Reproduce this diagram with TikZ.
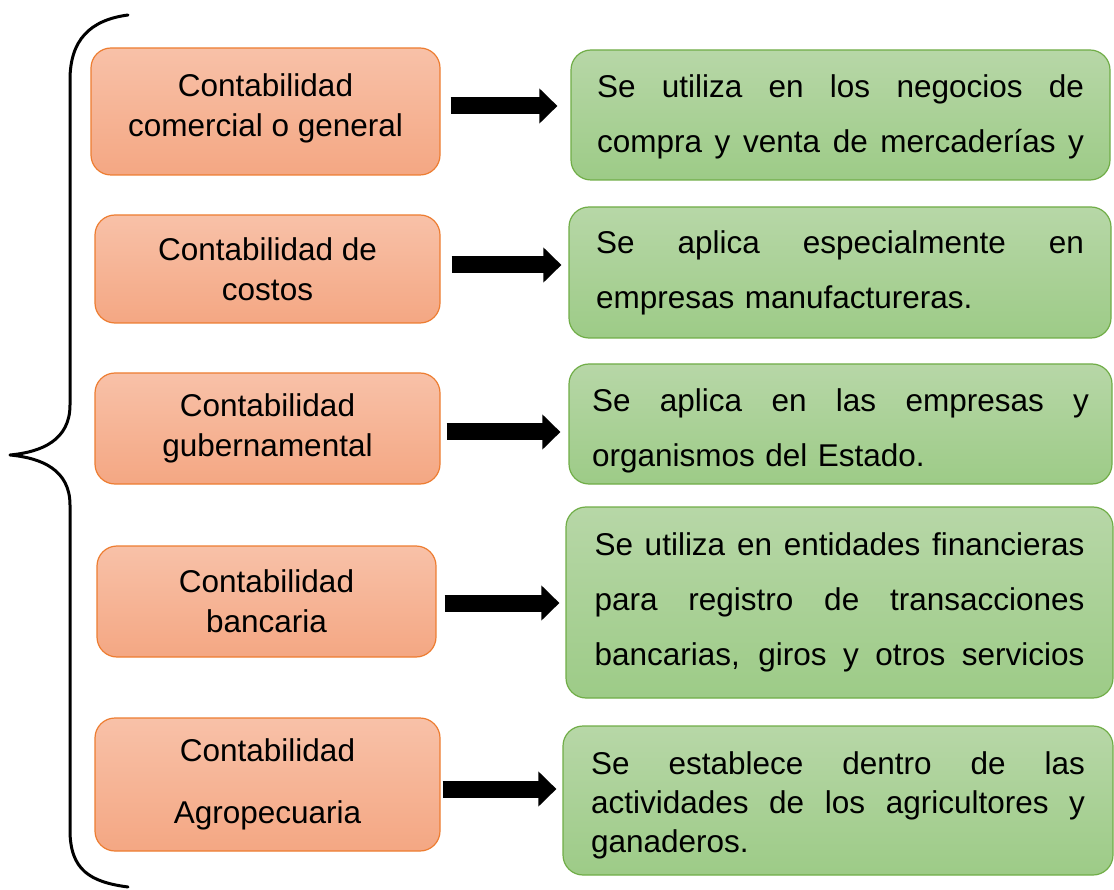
\documentclass[tikz,border=0pt]{standalone}
\usepackage{fontspec}
\setmainfont{Liberation Sans}
\usetikzlibrary{arrows.meta,calc}
\definecolor{otop}{RGB}{248,193,168}
\definecolor{obot}{RGB}{244,167,131}
\definecolor{oline}{RGB}{237,125,49}
\definecolor{gtop}{RGB}{183,215,167}
\definecolor{gbot}{RGB}{157,203,135}
\definecolor{gline}{RGB}{112,173,71}
\newcommand{\jl}[2]{\leavevmode\hbox to #1{\spaceskip=\fontdimen2\font plus 1fil\relax #2}}
\begin{document}
\begin{tikzpicture}[x=1pt,y=-1pt,
  obox/.style={draw=oline, line width=1.2pt, rounded corners=20pt, top color=otop, bottom color=obot,
    align=center, font=\fontsize{31.5}{40}\selectfont, inner sep=0pt},
  gbox/.style={draw=gline, line width=1.2pt, rounded corners=20pt, top color=gtop, bottom color=gbot,
    align=left, font=\fontsize{31.5}{55}\selectfont, inner sep=0pt},
  barrow/.style={line width=17pt, draw=black, -{Triangle[width=34pt,length=18pt]}},
  bracepath/.style={line width=3pt, line cap=round, line join=round}]
\useasboundingbox (0,0) rectangle (1114,890);

% brace
\draw[bracepath] (128,15) .. controls (90,20) and (70,40) .. (70,80) -- (70,405)
  .. controls (70,440) and (42,452) .. (10,455)
  .. controls (42,458) and (70,470) .. (70,505) -- (70,830)
  .. controls (70,870) and (90,882) .. (128,887);

% left boxes
\node[obox, minimum width=349pt, minimum height=127pt, text depth=13pt] (o1) at (265.5,111.5) {Contabilidad\\comercial o general};
\node[obox, minimum width=345pt, minimum height=108pt] (o2) at (267.5,269) {Contabilidad de\\costos};
\node[obox, minimum width=345pt, minimum height=111pt] (o3) at (267.5,428.5) {Contabilidad\\gubernamental};
\node[obox, minimum width=339pt, minimum height=111pt] (o4) at (266.5,601.5) {Contabilidad\\bancaria};
\node[obox, minimum width=345pt, minimum height=133pt, font=\fontsize{31.5}{62}\selectfont] (o5) at (267.5,784.5) {Contabilidad\\Agropecuaria};

% right boxes
\node[gbox, minimum width=539pt, minimum height=130pt, text width=487pt, text height=27pt] (g1) at (840.5,115)
  {\jl{487pt}{Se utiliza en los negocios de}\\\jl{487pt}{compra y venta de mercaderías y}};
\node[gbox, minimum width=542pt, minimum height=131pt, text width=488pt] (g2) at (840,272.5)
  {\jl{488pt}{Se aplica especialmente en}\\empresas manufactureras.};
\node[gbox, minimum width=543pt, minimum height=120pt, text width=497pt, text height=37pt] (g3) at (840.5,424)
  {\jl{497pt}{Se aplica en las empresas y}\\organismos del Estado.};
\node[gbox, minimum width=547pt, minimum height=191pt, text width=490pt] (g4) at (839.5,602.5)
  {\jl{490pt}{Se utiliza en entidades financieras}\\\jl{490pt}{para registro de transacciones}\\\jl{490pt}{bancarias, giros y otros servicios}};
\node[gbox, minimum width=550pt, minimum height=149pt, text width=494pt, text height=33pt, font=\fontsize{31.5}{39}\selectfont] (g5) at (838,800.5)
  {\jl{494pt}{Se establece dentro de las}\\\jl{494pt}{actividades de los agricultores y}\\ganaderos.};

% arrows
\draw[barrow] ($(o1.east)+(10,-5.5)$) -- ($(g1.west)+(-13,-9)$);
\draw[barrow] ($(o2.east)+(11,-4)$) -- ($(g2.west)+(-7,-7.5)$);
\draw[barrow] ($(o3.east)+(6,3.5)$) -- ($(g3.west)+(-8,8)$);
\draw[barrow] ($(o4.east)+(8,1.5)$) -- ($(g4.west)+(-6,0.5)$);
\draw[barrow] ($(o5.east)+(2,4.5)$) -- ($(g5.west)+(-6,-11.5)$);
\end{tikzpicture}
\end{document}
